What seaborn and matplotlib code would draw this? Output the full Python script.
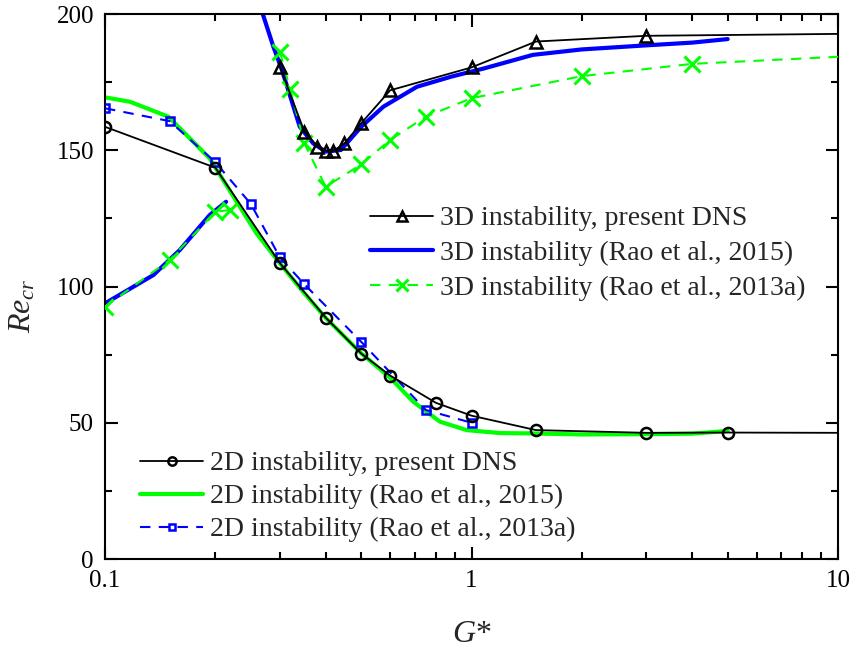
import numpy as np
import pandas as pd
import matplotlib
matplotlib.use("Agg")
import matplotlib.pyplot as plt
import seaborn as sns
from matplotlib.ticker import FixedLocator, LogLocator, NullFormatter, FixedFormatter

# ---------------- data ----------------
# 3D instability, present DNS (triangles); last point (G*=10) drawn without marker
g3_dns = [0.3, 0.35, 0.38, 0.4, 0.42, 0.45, 0.5, 0.6, 1.0, 1.5, 3.0, 10.0]
re3_dns = [180.7, 156.8, 151.3, 149.8, 149.8, 152.5, 159.9, 172.0, 180.4, 189.9, 192.0, 192.7]

# 3D instability (Rao et al., 2015) - two branches
g3_r15_low = [0.1, 0.1355, 0.16, 0.193, 0.214]
re3_r15_low = [93.8, 104.2, 113.4, 126.2, 131.1]
g3_r15_up = [0.265, 0.288, 0.303, 0.34, 0.37, 0.40, 0.44, 0.5, 0.575, 0.71, 0.88, 1.08, 1.47, 2.0, 3.0, 4.0, 5.0]
re3_r15_up = [203.0, 188.0, 180.0, 158.6, 152.5, 149.5, 150.1, 158.6, 166.0, 173.3, 177.0, 180.0, 185.0, 187.0, 188.5, 189.5, 190.8]

# 3D instability (Rao et al., 2013a) - two branches; last upper point (10) without marker
g3_r13_low = [0.1, 0.15, 0.2, 0.22]
re3_r13_low = [92.6, 109.7, 127.4, 128.1]
g3_r13_up = [0.3, 0.32, 0.35, 0.4, 0.5, 0.6, 0.75, 1.0, 2.0, 4.0, 10.0]
re3_r13_up = [186.2, 172.5, 152.5, 136.6, 144.8, 153.8, 162.3, 169.1, 177.2, 181.7, 184.3]

# 2D instability, present DNS (circles); last point (10) without marker
g2_dns = [0.1, 0.2, 0.3, 0.4, 0.5, 0.6, 0.8, 1.0, 1.5, 3.0, 5.0, 10.0]
re2_dns = [158.6, 143.6, 108.6, 88.6, 75.4, 67.3, 57.3, 52.6, 47.3, 46.3, 46.4, 46.3]

# 2D instability (Rao et al., 2015)
g2_r15 = [0.1, 0.117, 0.149, 0.193, 0.259, 0.3, 0.35, 0.4, 0.5, 0.6, 0.694, 0.82, 0.97, 1.2, 1.44, 2.0, 3.0, 4.0, 5.0]
re2_r15 = [169.4, 167.8, 162.3, 147.0, 119.5, 108.5, 97.5, 88.5, 75.5, 66.5, 57.7, 50.4, 47.3, 46.2, 46.1, 45.7, 45.8, 46.0, 47.0]

# 2D instability (Rao et al., 2013a) squares
g2_r13 = [0.1, 0.15, 0.2, 0.25, 0.3, 0.35, 0.5, 0.75, 1.0]
re2_r13 = [165.4, 160.7, 145.6, 130.3, 110.7, 100.8, 79.7, 54.7, 50.0]

labels_3d = ["3D instability, present DNS", "3D instability (Rao et al., 2015)", "3D instability (Rao et al., 2013a)"]
labels_2d = ["2D instability, present DNS", "2D instability (Rao et al., 2015)", "2D instability (Rao et al., 2013a)"]

# ---------------- style ----------------
sns.set_theme(style="ticks")
plt.rcParams["font.family"] = ["Liberation Serif", "DejaVu Serif"]
plt.rcParams["mathtext.fontset"] = "custom"
plt.rcParams["mathtext.rm"] = "Liberation Serif"
plt.rcParams["mathtext.it"] = "Liberation Serif:italic"

GREEN = "#00ff00"
BLUE = "#0000ff"
BLACK = "#000000"

fig = plt.figure(figsize=(8.55, 6.48), dpi=100)
ax = fig.add_axes([105 / 855, 89 / 648, 733 / 855, 545 / 648])


def line(x, y, **kw):
    df = pd.DataFrame({"x": x, "y": y})
    sns.lineplot(data=df, x="x", y="y", ax=ax, sort=False, estimator=None, **kw)


dash = (5, 4)

# 2D curves
line(g2_r15, re2_r15, color=GREEN, lw=3.0, label=labels_2d[1], zorder=2)
line(g2_r13, re2_r13, color=BLUE, lw=1.5, marker="s", markersize=6, markeredgewidth=1.8,
     markerfacecolor="none", markeredgecolor=BLUE, label=labels_2d[2], zorder=3)
line(g2_dns, re2_dns, color=BLACK, lw=1.3, marker="o", markersize=8, markeredgewidth=1.8,
     markerfacecolor="none", markeredgecolor=BLACK, markevery=list(range(len(g2_dns) - 1)),
     label=labels_2d[0], zorder=4)

# 3D curves
line(g3_r15_low, re3_r15_low, color=BLUE, lw=3.0, zorder=2)
line(g3_r15_up, re3_r15_up, color=BLUE, lw=3.0, label=labels_3d[1], zorder=2)
line(g3_r13_low, re3_r13_low, color=GREEN, lw=1.5, marker="x", markersize=11, markeredgewidth=2.2,
     markeredgecolor=GREEN, zorder=3)
line(g3_r13_up, re3_r13_up, color=GREEN, lw=1.5, marker="x", markersize=11, markeredgewidth=2.2,
     markeredgecolor=GREEN, markevery=list(range(len(g3_r13_up) - 1)), label=labels_3d[2], zorder=3)
line(g3_dns, re3_dns, color=BLACK, lw=1.3, marker="^", markersize=9, markeredgewidth=1.8,
     markerfacecolor="none", markeredgecolor=BLACK, markevery=list(range(len(g3_dns) - 1)),
     label=labels_3d[0], zorder=4)

# dashed styles
for l in ax.get_lines():
    if l.get_label() == labels_2d[2]:
        l.set_dashes(dash)
    if l.get_color() == GREEN and l.get_marker() == "x":
        l.set_dashes(dash)

# axes
ax.set_xscale("log")
ax.set_xlim(0.1, 10)
ax.set_ylim(0, 200)
ax.xaxis.set_major_locator(FixedLocator([0.1, 1, 10]))
ax.xaxis.set_major_formatter(FixedFormatter(["0.1", "1", "10"]))
ax.xaxis.set_minor_locator(LogLocator(base=10, subs=np.arange(2, 10)))
ax.xaxis.set_minor_formatter(NullFormatter())
ax.yaxis.set_major_locator(FixedLocator([0, 50, 100, 150, 200]))
ax.yaxis.set_minor_locator(FixedLocator([25, 75, 125, 175]))
ax.tick_params(which="both", direction="in", top=True, right=True, labelsize=18, width=1.5, colors=BLACK)
ax.tick_params(which="major", length=9, pad=8)
ax.tick_params(which="minor", length=5)
for s in ax.spines.values():
    s.set_linewidth(1.5)
    s.set_color(BLACK)

ax.set_xlabel("$G$*", fontsize=23, labelpad=20)
ax.set_ylabel("$Re_{cr}$", fontsize=23)
ax.yaxis.set_label_coords(-0.092, 0.465)
ax.grid(False)

# legends
handles, labs = ax.get_legend_handles_labels()
hmap = dict(zip(labs, handles))
leg1 = ax.legend([hmap[l] for l in labels_3d], labels_3d, loc="upper left",
                 bbox_to_anchor=((370 - 105) / 733, (559 - 206) / 545), frameon=False,
                 fontsize=20, handlelength=2.27, handletextpad=0.25, borderpad=0,
                 borderaxespad=0, labelspacing=0.33, markerscale=0.75)
ax.add_artist(leg1)
leg2 = ax.legend([hmap[l] for l in labels_2d], labels_2d, loc="upper left",
                 bbox_to_anchor=((140 - 105) / 733, (559 - 451) / 545), frameon=False,
                 fontsize=20, handlelength=2.27, handletextpad=0.25, borderpad=0,
                 borderaxespad=0, labelspacing=0.27, markerscale=0.75)

fig.savefig("out.png", dpi=100)
